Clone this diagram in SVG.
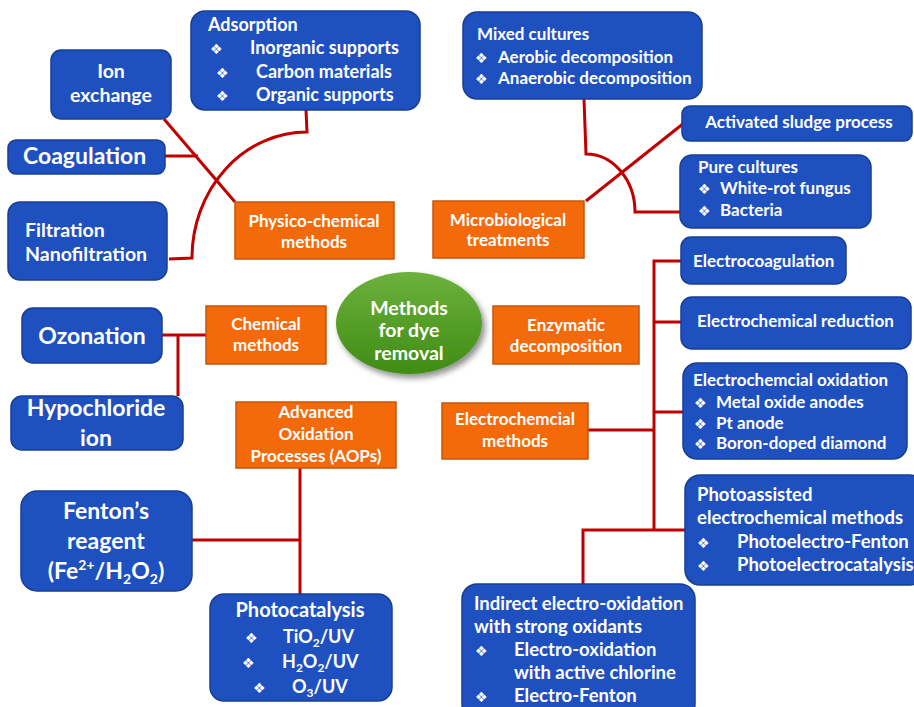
<svg xmlns="http://www.w3.org/2000/svg" width="914" height="707" viewBox="0 0 914 707">
<defs>
<style>
.b{fill:#1f50c0;stroke:#183e92;stroke-width:1.5}
.o{fill:#f46a0a;stroke:#c5560c;stroke-width:1.5}
.c{fill:none;stroke:#c00000;stroke-width:3}
text{font-family:Lato,"Liberation Sans",sans-serif;font-weight:bold;fill:#fff;font-size:17px}
.m{text-anchor:middle}
.k{font-family:"DejaVu Sans",sans-serif;font-size:14px;font-weight:normal}
.L{font-size:23px}
.M{font-size:19.5px}
.S{font-size:18px}
.T{font-size:18.5px}
.P{font-size:20px}
</style>
<linearGradient id="g" x1="0" y1="0" x2="0" y2="1">
<stop offset="0" stop-color="#6cb13c"/>
<stop offset="1" stop-color="#3f8c15"/>
</linearGradient>
<filter id="sh" x="-20%" y="-20%" width="150%" height="150%">
<feGaussianBlur in="SourceAlpha" stdDeviation="3"/>
<feOffset dx="3" dy="4"/>
<feComponentTransfer><feFuncA type="linear" slope="0.45"/></feComponentTransfer>
<feMerge><feMergeNode/><feMergeNode in="SourceGraphic"/></feMerge>
</filter>
</defs>
<rect width="914" height="707" fill="#fff"/>
<g id="connectors">
<path class="c" d="M164,119 L235,202"/>
<path class="c" d="M165,156 L198,156"/>
<path class="c" d="M306,110 L307,132 A115,126 0 0 0 192,258 L169,259"/>
<path class="c" d="M586,201 L684,123"/>
<path class="c" d="M584,99 L586,154 A49,58 0 0 1 635,212 L681,212"/>
<path class="c" d="M162,335 L206,335 M178,335 L178,396"/>
<path class="c" d="M300,468 L300,594 M192,540 L300,540"/>
<path class="c" d="M681,261 L654,261 L654,530 M654,322 L681,322 M654,412 L683,412 M588,430 L654,430 M583,584 L583,530 L685,530"/>
</g>
<g id="center">
<ellipse cx="409" cy="323" rx="73" ry="51" fill="url(#g)" filter="url(#sh)"/>
<text class="m M" x="409" y="315">Methods</text>
<text class="m M" x="409" y="337">for dye</text>
<text class="m M" x="409" y="360">removal</text>
</g>
<g id="ion-exchange">
<rect class="b" x="51" y="50" width="120" height="69" rx="10"/>
<text class="m M" x="111" y="78">Ion</text>
<text class="m M" x="111" y="102">exchange</text>
</g>
<g id="adsorption">
<rect class="b" x="191" y="11" width="229" height="99" rx="14"/>
<text class="S" x="208" y="31">Adsorption</text>
<text class="k" x="210" y="54">❖</text><text class="S" x="250" y="54">Inorganic supports</text>
<text class="k" x="216" y="78">❖</text><text class="S" x="256" y="78">Carbon materials</text>
<text class="k" x="216" y="101">❖</text><text class="S" x="256" y="101">Organic supports</text>
</g>
<g id="coagulation">
<rect class="b" x="8" y="140" width="157" height="34" rx="8"/>
<text class="L" x="23" y="164">Coagulation</text>
</g>
<g id="filtration">
<rect class="b" x="8" y="202" width="159" height="78" rx="12"/>
<text class="M" x="25" y="237">Filtration</text>
<text class="M" x="25" y="261">Nanofiltration</text>
</g>
<g id="physico-chemical">
<rect class="o" x="235" y="202" width="159" height="57"/>
<text class="m" x="314" y="227">Physico-chemical</text>
<text class="m" x="314" y="248">methods</text>
</g>
<g id="mixed-cultures">
<rect class="b" x="463" y="12" width="239" height="87" rx="14"/>
<text x="477" y="40">Mixed cultures</text>
<text class="k" x="475" y="63">❖</text><text x="498" y="63">Aerobic decomposition</text>
<text class="k" x="475" y="84">❖</text><text x="498" y="84">Anaerobic decomposition</text>
</g>
<g id="activated-sludge">
<rect class="b" x="682" y="106" width="230" height="35" rx="8"/>
<text class="m" x="799" y="128">Activated sludge process</text>
</g>
<g id="pure-cultures">
<rect class="b" x="680" y="155" width="191" height="73" rx="12"/>
<text x="698" y="173">Pure cultures</text>
<text class="k" x="698" y="194">❖</text><text x="720" y="194">White-rot fungus</text>
<text class="k" x="698" y="216">❖</text><text x="720" y="216">Bacteria</text>
</g>
<g id="microbiological">
<rect class="o" x="433" y="201" width="151" height="57"/>
<text class="m" x="508" y="226">Microbiological</text>
<text class="m" x="508" y="246">treatments</text>
</g>
<g id="ozonation">
<rect class="b" x="22" y="308" width="140" height="55" rx="11"/>
<text class="m L" x="92" y="344">Ozonation</text>
</g>
<g id="chemical">
<rect class="o" x="206" y="306" width="120" height="58"/>
<text class="m" x="266" y="330">Chemical</text>
<text class="m" x="266" y="351">methods</text>
</g>
<g id="hypochloride">
<rect class="b" x="11" y="396" width="172" height="54" rx="11"/>
<text class="m L" x="96" y="416">Hypochloride</text>
<text class="m L" x="96" y="446">ion</text>
</g>
<g id="aops">
<rect class="o" x="236" y="402" width="160" height="66"/>
<text class="m" x="316" y="418">Advanced</text>
<text class="m" x="316" y="440">Oxidation</text>
<text class="m" x="316" y="462">Processes (AOPs)</text>
</g>
<g id="fenton">
<rect class="b" x="21" y="491" width="171" height="100" rx="16"/>
<text class="m L" x="106" y="519">Fenton’s</text>
<text class="m L" x="106" y="549">reagent</text>
<text class="m L" x="106" y="579">(Fe<tspan font-size="14" dy="-9">2+</tspan><tspan dy="9">/H</tspan><tspan font-size="14" dy="5">2</tspan><tspan dy="-5">O</tspan><tspan font-size="14" dy="5">2</tspan><tspan dy="-5">)</tspan></text>
</g>
<g id="photocatalysis">
<rect class="b" x="210" y="594" width="182" height="107" rx="14"/>
<text class="m P" x="300" y="617">Photocatalysis</text>
<text class="k" x="245" y="643">❖</text><text class="S" x="283" y="643">TiO<tspan font-size="12" dy="4">2</tspan><tspan dy="-4">/UV</tspan></text>
<text class="k" x="242" y="668">❖</text><text class="S" x="282" y="668">H<tspan font-size="12" dy="4">2</tspan><tspan dy="-4">O</tspan><tspan font-size="12" dy="4">2</tspan><tspan dy="-4">/UV</tspan></text>
<text class="k" x="253" y="693">❖</text><text class="S" x="292" y="693">O<tspan font-size="12" dy="4">3</tspan><tspan dy="-4">/UV</tspan></text>
</g>
<g id="enzymatic">
<rect class="o" x="493" y="306" width="146" height="58"/>
<text class="m" x="566" y="331">Enzymatic</text>
<text class="m" x="566" y="352">decomposition</text>
</g>
<g id="electrochemical-methods">
<rect class="o" x="442" y="403" width="146" height="56"/>
<text class="m" x="515" y="425">Electrochemcial</text>
<text class="m" x="515" y="447">methods</text>
</g>
<g id="electrocoagulation">
<rect class="b" x="681" y="237" width="165" height="47" rx="10"/>
<text x="693" y="267">Electrocoagulation</text>
</g>
<g id="electrochemical-reduction">
<rect class="b" x="681" y="297" width="230" height="52" rx="11"/>
<text x="697" y="327">Electrochemical reduction</text>
</g>
<g id="electrochemical-oxidation">
<rect class="b" x="683" y="363" width="224" height="96" rx="14"/>
<text x="693" y="386">Electrochemcial oxidation</text>
<text class="k" x="694" y="408">❖</text><text x="716" y="408">Metal oxide anodes</text>
<text class="k" x="694" y="429">❖</text><text x="716" y="429">Pt anode</text>
<text class="k" x="694" y="449">❖</text><text x="716" y="449">Boron-doped diamond</text>
</g>
<g id="photoassisted">
<rect class="b" x="685" y="475" width="240" height="110" rx="15"/>
<text class="T" x="697" y="501">Photoassisted</text>
<text class="T" x="697" y="524">electrochemical methods</text>
<text class="k" x="697" y="548">❖</text><text class="T" x="737" y="548">Photoelectro-Fenton</text>
<text class="k" x="697" y="571">❖</text><text class="T" x="737" y="571">Photoelectrocatalysis</text>
</g>
<g id="indirect">
<rect class="b" x="462" y="584" width="233" height="135" rx="15"/>
<text class="T" x="474" y="610">Indirect electro-oxidation</text>
<text class="T" x="474" y="633">with strong oxidants</text>
<text class="k" x="475" y="656">❖</text><text class="T" x="514" y="656">Electro-oxidation</text>
<text class="T" x="514" y="679">with active chlorine</text>
<text class="k" x="475" y="702">❖</text><text class="T" x="514" y="702">Electro-Fenton</text>
</g>
</svg>
